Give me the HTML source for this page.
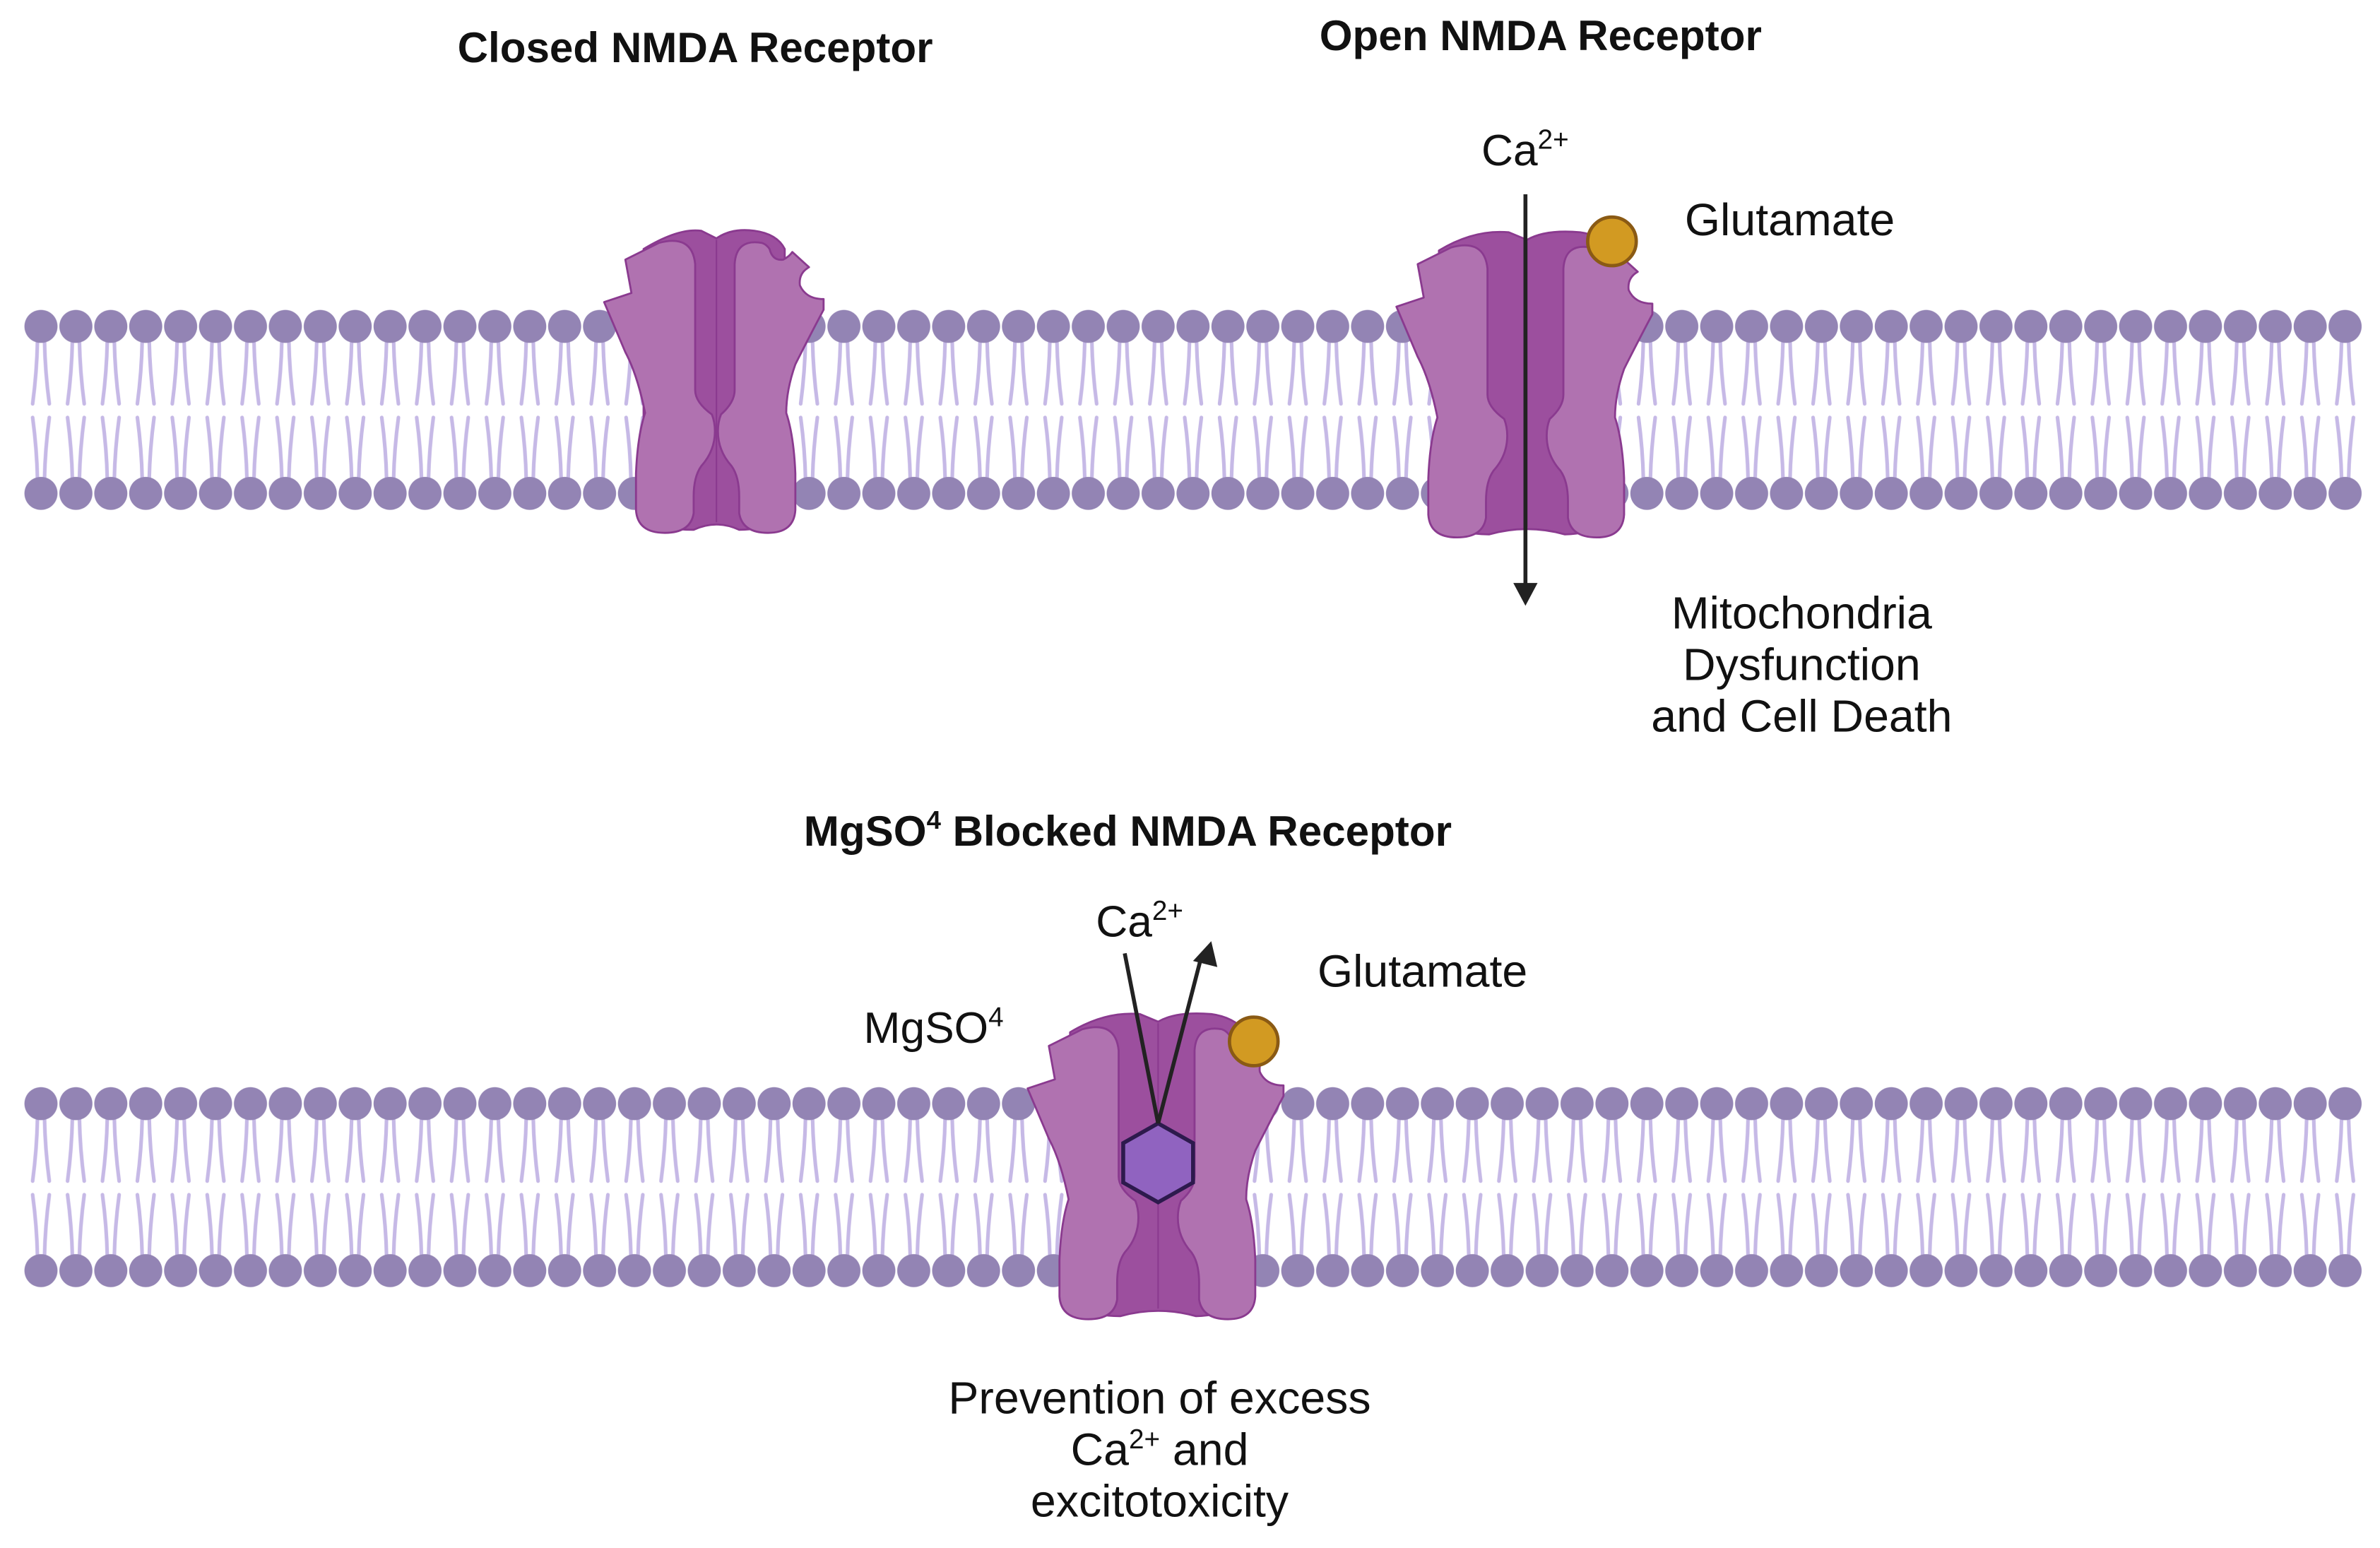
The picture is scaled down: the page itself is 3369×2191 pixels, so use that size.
<!DOCTYPE html>
<html><head><meta charset="utf-8"><style>
html,body{margin:0;padding:0;background:#fff;}
svg{display:block;}
text{font-family:"Liberation Sans",Arial,sans-serif;fill:#111;}
</style></head><body>
<svg width="3369" height="2191" viewBox="0 0 1568 1019.7" xmlns="http://www.w3.org/2000/svg">
<defs>
<pattern id="lip1" x="15.5" y="200" width="23" height="140" patternUnits="userSpaceOnUse">
  <g stroke="#c6b9e6" stroke-width="2.4" fill="none" stroke-linecap="round">
    <path d="M9.2,24 Q8.8,45 6,66"/><path d="M13.8,24 Q14.2,45 17,66"/>
    <path d="M6,75 Q8.8,96 9.2,116"/><path d="M17,75 Q14.2,96 13.8,116"/>
  </g>
  <circle cx="11.5" cy="15" r="10.9" fill="#9384b4"/>
  <circle cx="11.5" cy="125" r="10.9" fill="#9384b4"/>
</pattern>
<pattern id="lip2" x="15.5" y="712" width="23" height="140" patternUnits="userSpaceOnUse">
  <g stroke="#c6b9e6" stroke-width="2.4" fill="none" stroke-linecap="round">
    <path d="M9.2,24 Q8.8,45 6,66"/><path d="M13.8,24 Q14.2,45 17,66"/>
    <path d="M6,75 Q8.8,96 9.2,116"/><path d="M17,75 Q14.2,96 13.8,116"/>
  </g>
  <circle cx="11.5" cy="15" r="10.9" fill="#9384b4"/>
  <circle cx="11.5" cy="125" r="10.9" fill="#9384b4"/>
</pattern>
<g id="lobeL">
  <path d="M-60,19 L-38,8 Q-16,2 -14,22 L-14,105 Q-14,113 -3,121 Q-1,126 -1,132 Q-1,145 -10,155 Q-15,162 -15,175 L-15,186 Q-17,199 -34,199 Q-52,199 -53,184 L-53,160 Q-52,135 -47,120 Q-52,95 -60,80 L-74,47 L-56,41 Z"/>
</g>
<g id="lobeR">
  <path d="M12,22 Q13,5 30,8 Q33,9 35,12 Q37,20 44,19 Q48,17 50,14 L61,24 Q54,28 55,36 Q59,45 70.6,45 L70.6,52 Q60,72 52,88 Q46,105 46,120 Q51,135 52,160 L52,184 Q51,199 34,199 Q17,199 15,186 L15,175 Q15,162 10,155 Q1,145 1,132 Q1,126 3,121 Q12,113 12,105 Z"/>
</g>
</defs>

<rect x="15.5" y="200" width="1541" height="140" fill="url(#lip1)"/>
<rect x="15.5" y="712" width="1541" height="140" fill="url(#lip2)"/>

<!-- Closed receptor -->
<g transform="translate(472,152)" stroke="#8a3a8f" stroke-width="1.3" stroke-linejoin="round">
  <path fill="#9c4f9e" d="M-48,12 Q-25,-2 -10,0 Q0,5 0,5 Q10,-2 25,0 Q40,2 45,12 L45,190 Q30,197 15,197 Q0,190 -15,197 Q-35,197 -48,190 Z"/>
  <line x1="0" y1="6" x2="0" y2="192" stroke-width="1"/>
  <use href="#lobeL" fill="#b072b0"/>
  <use href="#lobeR" fill="#b072b0"/>
</g>

<!-- Open receptor -->
<g transform="translate(1006,153)" stroke="#8a3a8f" stroke-width="1.3" stroke-linejoin="round">
  <path fill="#9c4f9e" d="M-58,12 Q-35,-2 -12,0 Q0,5 0,5 Q12,-2 35,0 Q50,2 58,12 L58,190 Q40,199 25,199 Q0,192 -25,199 Q-45,199 -58,190 Z"/>
  <line x1="0" y1="6" x2="0" y2="194" stroke-width="1"/>
  <g transform="translate(-12,2)"><use href="#lobeL" fill="#b072b0"/></g>
  <g transform="translate(12,2)"><use href="#lobeR" fill="#b072b0"/></g>
</g>
<circle cx="1062" cy="159" r="16" fill="#d29a22" stroke="#8a5a14" stroke-width="2.2"/>
<line x1="1005" y1="128" x2="1005" y2="386" stroke="#222" stroke-width="2.6"/>
<polygon points="997,384 1013,384 1005,399" fill="#222"/>

<!-- Blocked receptor -->
<g transform="translate(763,668)" stroke="#8a3a8f" stroke-width="1.3" stroke-linejoin="round">
  <path fill="#9c4f9e" d="M-58,12 Q-35,-2 -12,0 Q0,5 0,5 Q12,-2 35,0 Q50,2 58,12 L58,190 Q40,199 25,199 Q0,192 -25,199 Q-45,199 -58,190 Z"/>
  <line x1="0" y1="6" x2="0" y2="194" stroke-width="1"/>
  <g transform="translate(-12,2)"><use href="#lobeL" fill="#b072b0"/></g>
  <g transform="translate(12,2)"><use href="#lobeR" fill="#b072b0"/></g>
</g>
<circle cx="826" cy="686" r="16" fill="#d29a22" stroke="#8a5a14" stroke-width="2.2"/>
<polygon points="763,740 786,753 786,779 763,792 740,779 740,753" fill="#9063c0" stroke="#2d1a4d" stroke-width="2.6"/>
<line x1="741" y1="628" x2="763" y2="740" stroke="#222" stroke-width="2.6"/>
<line x1="763" y1="740" x2="791" y2="632" stroke="#222" stroke-width="2.6"/>
<polygon points="786,633 802,637 798,620" fill="#222"/>

<!-- Texts -->
<text x="458" y="41" font-size="28" font-weight="bold" text-anchor="middle">Closed NMDA Receptor</text>
<text x="1015" y="33" font-size="28" font-weight="bold" text-anchor="middle">Open NMDA Receptor</text>
<text x="743" y="557" font-size="28" font-weight="bold" text-anchor="middle">MgSO<tspan font-size="17" dy="-11">4</tspan><tspan dy="11"> Blocked NMDA Receptor</tspan></text>

<text x="976" y="109" font-size="29">Ca<tspan font-size="18" dy="-11">2+</tspan></text>
<text x="1110" y="155" font-size="30">Glutamate</text>
<text x="1187" y="414" font-size="30" text-anchor="middle">Mitochondria</text>
<text x="1187" y="448" font-size="30" text-anchor="middle">Dysfunction</text>
<text x="1187" y="482" font-size="30" text-anchor="middle">and Cell Death</text>

<text x="722" y="617" font-size="29">Ca<tspan font-size="18" dy="-11">2+</tspan></text>
<text x="868" y="650" font-size="30">Glutamate</text>
<text x="569" y="687" font-size="29">MgSO<tspan font-size="18" dy="-11">4</tspan></text>
<text x="764" y="931" font-size="30" text-anchor="middle">Prevention of excess</text>
<text x="764" y="965" font-size="30" text-anchor="middle">Ca<tspan font-size="18" dy="-11">2+</tspan><tspan dy="11"> and</tspan></text>
<text x="764" y="999" font-size="30" text-anchor="middle">excitotoxicity</text>
</svg>
</body></html>
